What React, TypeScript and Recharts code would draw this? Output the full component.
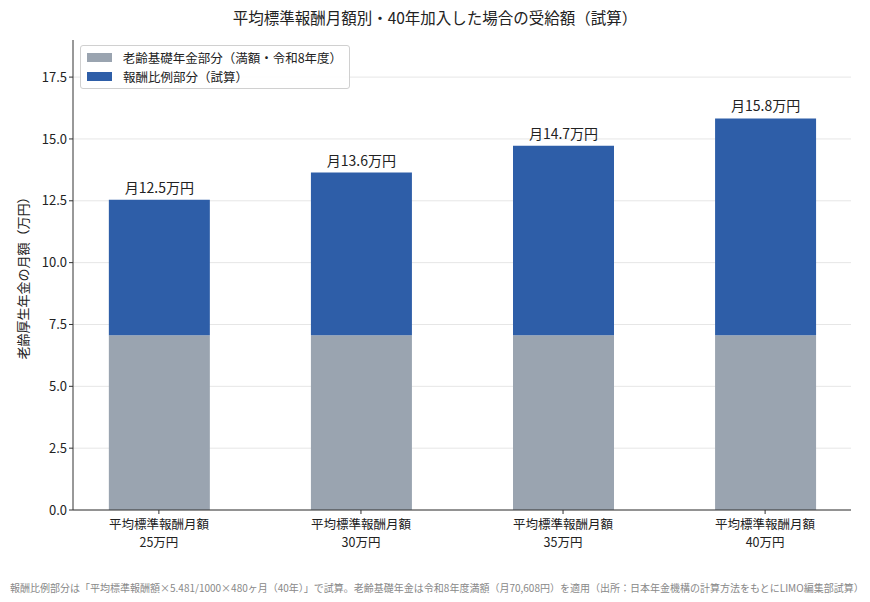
import React from 'react';
import { BarChart, Bar, XAxis, YAxis, CartesianGrid, LabelList } from 'recharts';

const categories = ['平均標準報酬月額\n25万円', '平均標準報酬月額\n30万円', '平均標準報酬月額\n35万円', '平均標準報酬月額\n40万円'];
const basicPension = [7.06, 7.06, 7.06, 7.06];
const earningsPart = [5.48, 6.58, 7.67, 8.77];
const totalLabels = ['月12.5万円', '月13.6万円', '月14.7万円', '月15.8万円'];
const yTicks = [0, 2.5, 5, 7.5, 10, 12.5, 15, 17.5];
const legendItems = ['老齢基礎年金部分（満額・令和8年度）', '報酬比例部分（試算）'];

const GRAY = '#9aa4b0';
const BLUE = '#2e5ea8';
const FONT = '"Noto Sans CJK JP", "Noto Sans", sans-serif';

const data = categories.map((c, i) => ({
  x: i,
  name: c,
  basic: basicPension[i],
  earn: earningsPart[i],
  label: totalLabels[i],
}));

const XTick = (props: any) => {
  const { x, y, payload } = props;
  const lines = categories[payload.value].split('\n');
  return (
    <g transform={`translate(${x},${y})`}>
      <line x1={0} y1={-8} x2={0} y2={-4} stroke="#333" />
      <text x={0} y={11} textAnchor="middle" fontSize={12.5} fill="#222" fontFamily={FONT}>
        {lines.map((l: string, i: number) => (
          <tspan key={i} x={0} dy={i === 0 ? 0 : 18}>
            {l}
          </tspan>
        ))}
      </text>
    </g>
  );
};

const TopLabel = (props: any) => {
  const { x, y, width, index } = props;
  return (
    <text x={x + width / 2} y={y - 7} textAnchor="middle" fontSize={14} fill="#222" fontFamily={FONT}>
      {totalLabels[index]}
    </text>
  );
};

export default function App() {
  return (
    <div style={{ position: 'absolute', left: 0, top: 0, width: 870, height: 602, background: '#fff', fontFamily: FONT }}>
      <div style={{ position: 'absolute', left: 0, top: 6, width: 870, textAlign: 'center', fontSize: 15.5, color: '#222' }}>
        平均標準報酬月額別・40年加入した場合の受給額（試算）
      </div>
      <div
        style={{
          position: 'absolute',
          left: 22,
          top: 275,
          transform: 'translate(-50%, -50%) rotate(-90deg)',
          whiteSpace: 'nowrap',
          fontSize: 13,
          color: '#222',
        }}
      >
        老齢厚生年金の月額（万円）
      </div>
      <BarChart width={870} height={602} data={data} margin={{ top: 40, right: 19, bottom: 42, left: 0 }}>
        <CartesianGrid horizontal vertical={false} stroke="#e6e6e6" syncWithTicks horizontalValues={yTicks} />
        <XAxis
          dataKey="x"
          type="number"
          domain={[-0.425, 3.425]}
          ticks={[0, 1, 2, 3]}
          allowDataOverflow
          tickLine={false}
          tick={<XTick />}
          axisLine={{ stroke: '#333' }}
          height={50}
          interval={0}
        />
        <YAxis
          width={73}
          domain={[0, 19]}
          ticks={yTicks}
          allowDataOverflow
          tickFormatter={(v: number) => v.toFixed(1)}
          tick={{ fontSize: 13, fill: '#222', fontFamily: FONT }}
          tickLine={{ stroke: '#333' }}
          tickSize={4}
          axisLine={{ stroke: '#333' }}
        />
        <Bar dataKey="basic" stackId="a" fill={GRAY} barSize={101} isAnimationActive={false} />
        <Bar dataKey="earn" stackId="a" fill={BLUE} barSize={101} isAnimationActive={false}>
          <LabelList dataKey="label" content={<TopLabel />} />
        </Bar>
      </BarChart>
      <div
        style={{
          position: 'absolute',
          left: 80,
          top: 45,
          border: '1px solid #d0d0d0',
          borderRadius: 3,
          background: 'rgba(255,255,255,0.9)',
          padding: '2px 10px 2px 6px',
          fontSize: 12.5,
          color: '#222',
          width: 252,
        }}
      >
        {legendItems.map((t, i) => (
          <div key={t} style={{ display: 'flex', alignItems: 'center', height: 19 }}>
            <span style={{ display: 'inline-block', width: 25, height: 9, background: i === 0 ? GRAY : BLUE, marginRight: 11 }} />
            <span>{t}</span>
          </div>
        ))}
      </div>
      <div style={{ position: 'absolute', left: 10, top: 580, fontSize: 10, color: '#888', whiteSpace: 'nowrap' }}>
        報酬比例部分は「平均標準報酬額×5.481/1000×480ヶ月（40年）」で試算。老齢基礎年金は令和8年度満額（月70,608円）を適用（出所：日本年金機構の計算方法をもとにLIMO編集部試算）
      </div>
    </div>
  );
}
